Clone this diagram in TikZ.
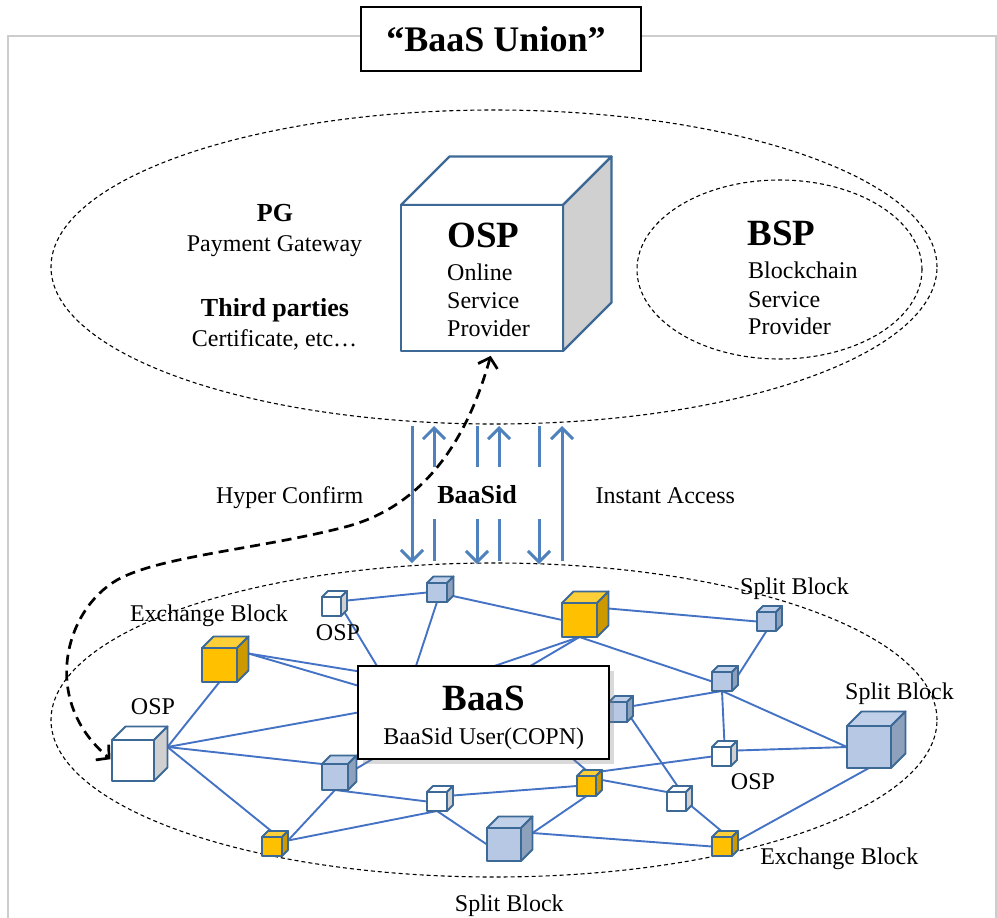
\documentclass[tikz,border=0pt]{standalone}
\usepackage{fontspec}
\setmainfont{Liberation Serif}
\usetikzlibrary{arrows.meta,shadows,backgrounds,calc}
\definecolor{cubeline}{RGB}{60,105,150}
\definecolor{linkblue}{RGB}{68,114,196}
\definecolor{arrowblue}{RGB}{79,129,189}
\definecolor{framegray}{RGB}{205,205,205}
\definecolor{bluefront}{RGB}{182,200,228}
\definecolor{bluetop}{RGB}{192,208,232}
\definecolor{blueside}{RGB}{141,160,188}
\definecolor{yellowfront}{RGB}{255,192,0}
\definecolor{yellowtop}{RGB}{255,207,55}
\definecolor{yellowside}{RGB}{204,153,0}
\definecolor{whitefront}{RGB}{255,255,255}
\definecolor{whitetop}{RGB}{255,255,255}
\definecolor{whiteside}{RGB}{208,208,208}
\newcommand\myfs[1]{\fontsize{#1}{#1}\selectfont}
\tikzset{
  cubeedge/.style={draw=cubeline, line width=1.9pt, line join=round},
  link/.style={draw=linkblue, line width=1.9pt},
  dashedell/.style={draw=black, line width=1.1pt, dash pattern=on 4pt off 3pt},
  barrow/.style={draw=arrowblue, line width=3pt},
  bhead/.style={-{Straight Barb[length=11pt,width=22pt]}},
  hyper/.style={draw=black, line width=2.7pt, dash pattern=on 10pt off 6pt,
    {Straight Barb[length=9pt,width=20pt]}-{Straight Barb[length=9pt,width=20pt]}},
  lbl/.style={font=\myfs{24}, inner sep=0pt, anchor=base},
  lblw/.style={font=\myfs{24}, inner sep=0pt, anchor=base west},
  blbl/.style={font=\myfs{26}\bfseries, inner sep=0pt, anchor=base},
  big/.style={font=\myfs{37}\bfseries, inner sep=0pt, anchor=base},
  bigw/.style={font=\myfs{37}\bfseries, inner sep=0pt, anchor=base west},
}
% #1 name, #2 x, #3 y (front top-left), #4 w, #5 h, #6 depth, #7 kind
\newcommand\mycube[7]{%
  \filldraw[cubeedge, fill=#7top] (#2,#3) -- ++(#6,-#6) -- ++(#4,0) -- ++(-#6,#6) -- cycle;
  \filldraw[cubeedge, fill=#7side] ({#2+#4},#3) -- ++(#6,-#6) -- ++(0,#5) -- ++(-#6,#6) -- cycle;
  \node[cubeedge, fill=#7front, minimum width=#4pt, minimum height=#5pt,
        inner sep=0pt, outer sep=0pt, anchor=north west] (#1) at (#2,#3) {};
  \coordinate (#1-n) at ({#2+#4/2+#6/2},{#3-#6/2});
  \coordinate (#1-e) at ({#2+#4+#6},{#3+#5/2-#6});
}
\begin{document}
\begin{tikzpicture}[x=1pt,y=-1pt]
\useasboundingbox (0,0) rectangle (997,918);

% frame and title
\draw[framegray, line width=2pt] (8,930) -- (8,36) -- (995.5,36) -- (995.5,930);
\node[draw=black, line width=1.3pt, fill=white, minimum width=280pt, minimum height=64pt,
      inner sep=0pt, outer sep=0pt] (title) at (501,39) {};
\node[font=\myfs{36}\bfseries, inner sep=0pt, anchor=base] (titletext) at (496,51.7) {“BaaS Union”};

% upper group
\node[blbl] (pg) at (275,221) {PG};
\node[lbl] (pgtext) at (274.5,251) {Payment Gateway};
\node[blbl] (third) at (275,316.7) {Third parties};
\node[lbl] (thirdtext) at (274.5,346.7) {Certificate, etc…};

\begin{scope}[cubeedge/.append style={line width=2.3pt}]
\mycube{osp}{401}{205}{162}{146}{48.5}{white}
\end{scope}
\node[big] (osptitle) at (483.5,247) {OSP};
\node[lblw] (osp1) at (447,280) {Online};
\node[lblw] (osp2) at (447,308) {Service};
\node[lblw] (osp3) at (447,336) {Provider};

\node[bigw] (bsptitle) at (747.5,245) {BSP};
\node[lblw] (bsp1) at (748,278) {Blockchain};
\node[lblw] (bsp2) at (748,307) {Service};
\node[lblw] (bsp3) at (748,334.5) {Provider};

% network cubes
\mycube{c1}{112}{740}{42}{41}{13.5}{white}
\mycube{c2}{202}{648}{35}{34}{11.5}{yellow}
\mycube{c3}{322}{597}{19}{19}{6}{white}
\mycube{c4}{427}{583}{20}{19}{6.5}{blue}
\mycube{c5}{322}{764}{26}{26}{8.5}{blue}
\mycube{c6}{427}{792}{20}{19}{6}{white}
\mycube{c7}{262}{837}{20}{19}{6}{yellow}
\mycube{c8}{562}{603}{35}{34}{11.5}{yellow}
\mycube{c9}{757}{612}{19}{19}{6}{blue}
\mycube{c10}{712}{672}{20}{19}{6}{blue}
\mycube{c11}{609}{702}{18}{20}{6}{blue}
\mycube{c12}{712}{747}{19}{19}{6}{white}
\mycube{c13}{847}{726}{44}{42}{14.5}{blue}
\mycube{c14}{577}{776}{19}{20}{6}{yellow}
\mycube{c15}{667}{792}{19}{19}{6}{white}
\mycube{c16}{712}{837}{20}{19}{6}{yellow}
\mycube{c17}{487}{828}{34}{33}{11.5}{blue}

% BaaS box
\node[draw=black, line width=1.3pt, fill=white,
      drop shadow={shadow xshift=5pt, shadow yshift=-5pt, opacity=0.3},
      minimum width=251pt, minimum height=93pt, inner sep=0pt, outer sep=0pt] (box) at (483.5,712.5) {};
\node[big] (baas) at (483.8,710.7) {BaaS};
\node[lbl] (baasuser) at (483.8,744.3) {BaaSid User(COPN)};

% labels in network
\node[lbl] (lex1) at (209,621) {Exchange Block};
\node[lbl] (losp1) at (153,714) {OSP};
\node[lbl] (losp2) at (338,640.7) {OSP};
\node[lbl] (lsp1) at (794.5,594) {Split Block};
\node[lbl] (lsp2) at (899.5,699.3) {Split Block};
\node[lbl] (losp3) at (753,789) {OSP};
\node[lbl] (lex2) at (839.3,864) {Exchange Block};
\node[lbl] (lsp3) at (509.3,911) {Split Block};

% middle labels
\node[lbl] (hyper) at (289.7,503.3) {Hyper Confirm};
\node[blbl] (baasid) at (477,503.3) {BaaSid};
\node[lbl] (instant) at (665.3,503.3) {Instant Access};

% background: ellipses and links
\begin{scope}[on background layer]
  \draw[dashedell] (494,267) ellipse [x radius=443pt, y radius=157pt];
  \draw[dashedell] (779.5,269.5) ellipse [x radius=142.5pt, y radius=89.5pt];
  \draw[dashedell] (494,720) ellipse [x radius=443pt, y radius=157pt];

  \draw[link] (c1-e) -- (c2.south);
  \draw[link] (c1-e) -- (box.west);
  \draw[link] (c1-e) -- (c5.north west);
  \draw[link] (c1-e) -- (c7-n);
  \draw[link] (c2-e) -- (c11.west);
  \draw[link] (c2-e) -- ([yshift=-10pt]box.center);
  \draw[link] (c3.east) -- ([xshift=19pt]box.north west);
  \draw[link] (c3-e) -- (c4.west);
  \draw[link] (c4.south) -- ([xshift=-67.5pt]box.north);
  \draw[link] (c4.center) -- (c8.west);
  \draw[link] (c8.south) -- (box.west);
  \draw[link] (c8.south) -- (c5-e);
  \draw[link] (c8-e) -- (c9.west);
  \draw[link] (c8.south) -- (c10.west);
  \draw[link] (c9.south) -- (c10-e);
  \draw[link] (c10.south) -- (c11-e);
  \draw[link] (c10.south) -- (c12-n);
  \draw[link] (c10.south) -- (c13.west);
  \draw[link] (c12-e) -- (c13.west);
  \draw[link] (c11.east) -- (c15-n);
  \draw[link] (c13.south) -- (c16-e);
  \draw[link] (c15.east) -- (c16-n);
  \draw[link] (c14-e) -- (c15.north west);
  \draw[link] ([xshift=-36pt]box.south east) -- (c14-n);
  \draw[link] (c12.west) -- (c14-n);
  \draw[link] (c14.west) -- (c6-e);
  \draw[link] (c14.south) -- (c17-e);
  \draw[link] (c17-e) -- (c16.west);
  \draw[link] (c6.south) -- (c17.west);
  \draw[link] (c5.south) -- (c6.west);
  \draw[link] (c6.south) -- (c7-e);
  \draw[link] (c5.south) -- (c7-e);
\end{scope}

% BaaSid arrows
\draw[barrow, bhead] (412,426) -- (412,563);
\draw[barrow, bhead] (434,467) -- (434,426);
\draw[barrow] (434,519) -- (434,561);
\draw[barrow] (477,426) -- (477,467);
\draw[barrow, bhead] (477,519) -- (477,564);
\draw[barrow, bhead] (499,467) -- (499,426);
\draw[barrow] (499,519) -- (499,561);
\draw[barrow] (539,426) -- (539,467);
\draw[barrow, bhead] (539,519) -- (539,564);
\draw[barrow, bhead] (562,561) -- (562,426);

% Hyper Confirm curve
\draw[hyper, shorten <=5pt, shorten >=2pt] ([xshift=10pt]osp.south)
  .. controls (470,430) and (430,505) .. (345,527)
  .. controls (260,549) and (160,556) .. (117,580)
  .. controls (65,610) and (40,700) .. (c1.west);
\end{tikzpicture}
\end{document}
